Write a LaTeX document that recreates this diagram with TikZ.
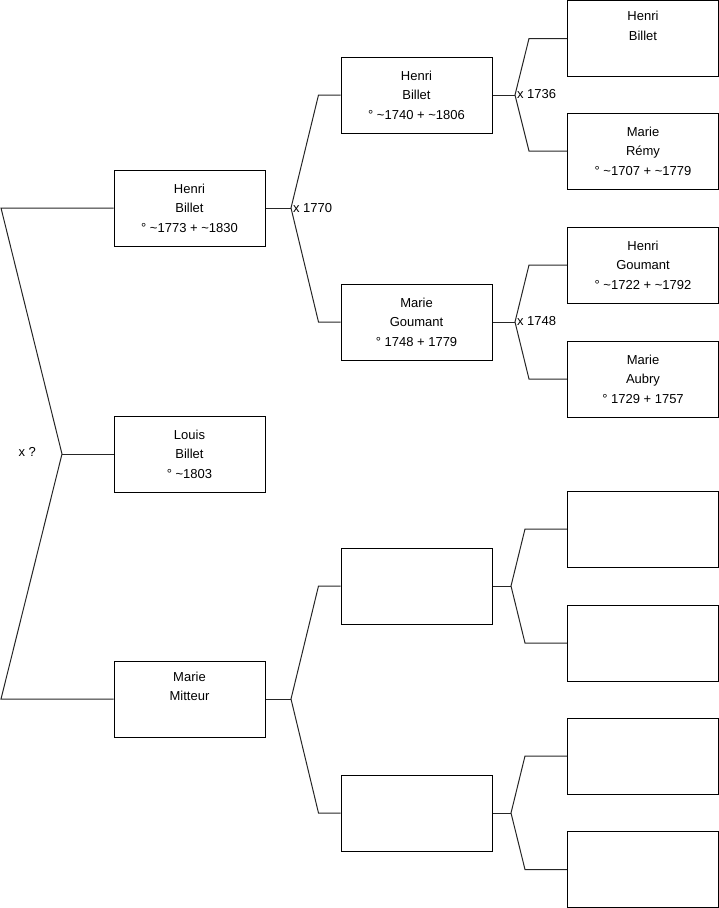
\documentclass[tikz,border=0pt]{standalone}
\usepackage{fontspec}
\setmainfont{Liberation Sans}
\begin{document}
\begin{tikzpicture}[x=1pt,y=-1pt,line width=1pt,
  person/.style={draw=black,rectangle,minimum width=151pt,minimum height=76pt,inner sep=0pt,align=center,font=\fontsize{13}{19.5}\selectfont},
  link/.style={draw=black!85,line width=1pt},
  union/.style={anchor=west,inner sep=0pt,font=\fontsize{13}{15}\selectfont}]
\useasboundingbox (0,0) rectangle (719,908);
% generation 1
\node[person] (g1a) at (189.5,208) {Henri\\Billet\\° \textasciitilde1773 + \textasciitilde1830};
\node[person] (g1b) at (189.5,454) {Louis\\Billet\\° \textasciitilde1803};
\node[person] (g1c) at (189.5,699) {Marie\\Mitteur\\\strut};
% generation 2
\node[person] (g2a) at (416.5,95) {Henri\\Billet\\° \textasciitilde1740 + \textasciitilde1806};
\node[person] (g2b) at (416.5,322) {Marie\\Goumant\\° 1748 + 1779};
\node[person] (g2c) at (416.5,586) {};
\node[person] (g2d) at (416.5,813) {};
% generation 3
\node[person] (g3a) at (643,38.5) {Henri\\Billet\\\strut};
\node[person] (g3b) at (643,151) {Marie\\Rémy\\° \textasciitilde1707 + \textasciitilde1779};
\node[person] (g3c) at (643,265) {Henri\\Goumant\\° \textasciitilde1722 + \textasciitilde1792};
\node[person] (g3d) at (643,379) {Marie\\Aubry\\° 1729 + 1757};
\node[person] (g3e) at (643,529) {};
\node[person] (g3f) at (643,643) {};
\node[person] (g3g) at (643,756) {};
\node[person] (g3h) at (643,869.5) {};
% root bracket
\coordinate (r1) at (1,208);
\coordinate (rv) at (62,454);
\coordinate (r3) at (1,699);
\draw[link] (g1a.west) -- (r1) -- (rv) -- (r3) -- (g1c.west);
\draw[link] (rv) -- (g1b.west);
\node[union] (u0) at (18,452) {x ?};
% gen1 -> gen2
\coordinate (v1) at (291,208);
\draw[link] (g1a.east) -- (v1);
\draw[link] (g2a.west) -- ([xshift=-22pt]g2a.west) -- (v1) -- ([xshift=-22pt]g2b.west) -- (g2b.west);
\node[union] (u1) at (292.5,208) {x 1770};
\coordinate (v2) at (291,699);
\draw[link] (g1c.east) -- (v2);
\draw[link] (g2c.west) -- ([xshift=-22pt]g2c.west) -- (v2) -- ([xshift=-22pt]g2d.west) -- (g2d.west);
% gen2 -> gen3
\coordinate (v3) at (515,95);
\draw[link] (g2a.east) -- (v3);
\draw[link] (g3a.west) -- ([xshift=-38pt]g3a.west) -- (v3) -- ([xshift=-38pt]g3b.west) -- (g3b.west);
\node[union] (u2) at (516.5,94) {x 1736};
\coordinate (v4) at (515,322);
\draw[link] (g2b.east) -- (v4);
\draw[link] (g3c.west) -- ([xshift=-38pt]g3c.west) -- (v4) -- ([xshift=-38pt]g3d.west) -- (g3d.west);
\node[union] (u3) at (516.5,321) {x 1748};
\coordinate (v5) at (511,586);
\draw[link] (g2c.east) -- (v5);
\draw[link] (g3e.west) -- ([xshift=-42pt]g3e.west) -- (v5) -- ([xshift=-42pt]g3f.west) -- (g3f.west);
\coordinate (v6) at (511,813);
\draw[link] (g2d.east) -- (v6);
\draw[link] (g3g.west) -- ([xshift=-42pt]g3g.west) -- (v6) -- ([xshift=-42pt]g3h.west) -- (g3h.west);
\end{tikzpicture}
\end{document}
